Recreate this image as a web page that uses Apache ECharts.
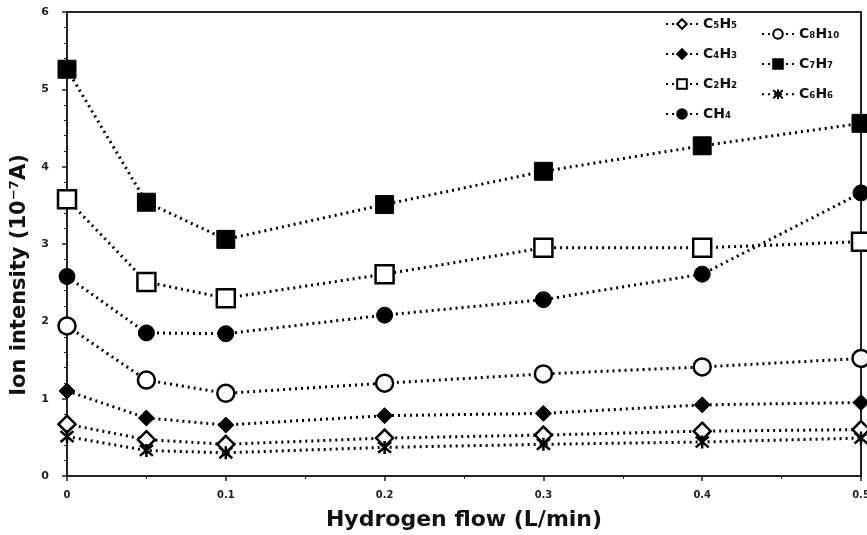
<!DOCTYPE html>
<html>
<head>
<meta charset="utf-8">
<style>
  html, body { margin: 0; padding: 0; background: #fff; }
  #main { width: 867px; height: 535px; }
</style>
<script src="https://cdn.jsdelivr.net/npm/echarts@6/dist/echarts.min.js"></script>
</head>
<body>
<div id="main"></div>
<script>
// hydrogen flow (L/min)
var flow = [0, 0.05, 0.1, 0.2, 0.3, 0.4, 0.5];

// ion intensity (10^-7 A)
var c5h5  = [0.67, 0.47, 0.41, 0.49, 0.53, 0.58, 0.60];
var c4h3  = [1.10, 0.75, 0.66, 0.78, 0.81, 0.92, 0.95];
var c2h2  = [3.58, 2.51, 2.30, 2.61, 2.95, 2.95, 3.03];
var ch4   = [2.58, 1.85, 1.84, 2.08, 2.28, 2.61, 3.66];
var c8h10 = [1.94, 1.24, 1.07, 1.20, 1.32, 1.41, 1.52];
var c7h7  = [5.26, 3.54, 3.06, 3.51, 3.94, 4.27, 4.56];
var c6h6  = [0.51, 0.33, 0.30, 0.37, 0.41, 0.44, 0.49];

var legendLeft  = ['C₅H₅', 'C₄H₃', 'C₂H₂', 'CH₄'];
var legendRight = ['C₈H₁₀', 'C₇H₇', 'C₆H₆'];

var chart = echarts.init(document.getElementById('main'));

var starPath = 'path://M0,0L10,10M10,0L0,10M5,-1L5,11';

function pairs(vals) {
  var out = [];
  for (var i = 0; i < flow.length; i++) {
    out.push([flow[i], vals[i]]);
  }
  return out;
}

function mkSeries(name, vals, symbol, size, hollow) {
  return {
    name: name,
    type: 'line',
    data: pairs(vals),
    symbol: symbol,
    symbolSize: size,
    showAllSymbol: true,
    lineStyle: { color: '#000', width: 3, type: [2, 4] },
    itemStyle: {
      color: hollow ? '#fff' : '#000',
      borderColor: '#000',
      borderWidth: hollow ? 2.5 : 1
    },
    emphasis: { disabled: true },
    z: 3
  };
}

var legendText = {
  fontFamily: 'DejaVu Sans',
  fontWeight: 'bold',
  fontSize: 14,
  color: '#111'
};

var option = {
  backgroundColor: '#fff',
  animation: false,
  grid: {
    left: 67, right: 6, top: 12, bottom: 59,
    outerBoundsMode: 'none',
    containLabel: false,
    show: true,
    borderColor: '#222',
    borderWidth: 2
  },
  legend: [
    {
      data: legendLeft,
      orient: 'vertical',
      left: 660, top: 12,
      itemWidth: 32, itemHeight: 12,
      itemGap: 16,
      textStyle: legendText
    },
    {
      data: legendRight,
      orient: 'vertical',
      left: 756, top: 22,
      itemWidth: 32, itemHeight: 12,
      itemGap: 16,
      textStyle: legendText
    }
  ],
  xAxis: {
    type: 'value',
    min: 0, max: 0.5, interval: 0.1,
    name: 'Hydrogen flow (L/min)',
    nameLocation: 'middle',
    nameGap: 33,
    nameTextStyle: { fontFamily: 'DejaVu Sans', fontWeight: 'bold', fontSize: 22, color: '#111' },
    axisLine: { lineStyle: { color: '#222', width: 2 } },
    axisTick: { show: true, length: 5, lineStyle: { color: '#222', width: 1.5 } },
    minorTick: { show: true, splitNumber: 2, length: 3, lineStyle: { color: '#222' } },
    splitLine: { show: false },
    axisLabel: {
      fontFamily: 'DejaVu Sans Condensed', fontWeight: 'bold', fontSize: 11, color: '#222', margin: 14,
      formatter: function (v) { return v === 0 ? '0' : String(Math.round(v * 10) / 10); }
    }
  },
  yAxis: {
    type: 'value',
    min: 0, max: 6, interval: 1,
    name: 'Ion intensity (10⁻⁷A)',
    nameLocation: 'middle',
    nameGap: 35,
    nameTextStyle: {
      fontFamily: 'DejaVu Sans', fontWeight: 'bold', fontSize: 21, color: '#111',
      padding: [0, 62, 0, 0]
    },
    axisLine: { show: true, lineStyle: { color: '#222', width: 2 } },
    axisTick: { show: true, length: 5, lineStyle: { color: '#222', width: 1.5 } },
    minorTick: { show: true, splitNumber: 5, length: 3, lineStyle: { color: '#222' } },
    splitLine: { show: false },
    axisLabel: { fontFamily: 'DejaVu Sans', fontWeight: 'bold', fontSize: 11, color: '#222', margin: 18 }
  },
  series: [
    mkSeries('C₅H₅', c5h5, 'diamond', 17, true),
    mkSeries('C₄H₃', c4h3, 'diamond', 16, false),
    mkSeries('C₂H₂', c2h2, 'rect', 18, true),
    mkSeries('CH₄', ch4, 'circle', 16, false),
    mkSeries('C₈H₁₀', c8h10, 'circle', 17, true),
    mkSeries('C₇H₇', c7h7, 'rect', 18, false),
    mkSeries('C₆H₆', c6h6, starPath, 13, false)
  ]
};

// star marker is drawn with strokes only
option.series[6].itemStyle = { color: 'none', borderColor: '#000', borderWidth: 2.5 };

chart.setOption(option);
</script>
</body>
</html>
